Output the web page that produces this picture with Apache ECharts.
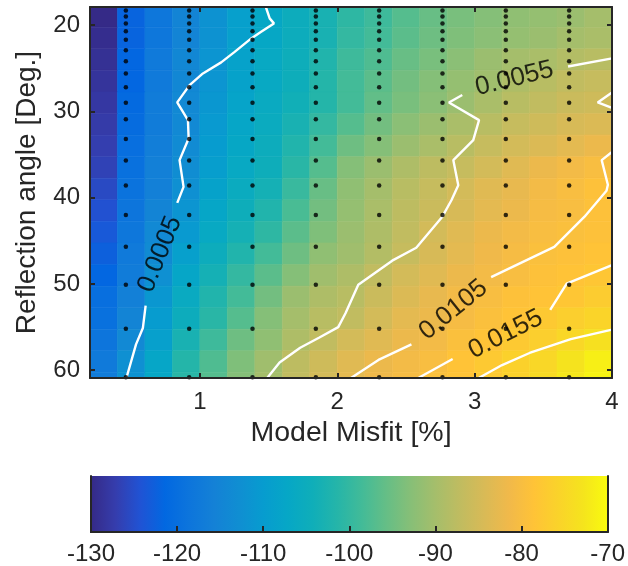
<!DOCTYPE html>
<html><head><meta charset="utf-8">
<script src="https://cdn.jsdelivr.net/npm/echarts@6/dist/echarts.min.js"></script>
<style>html,body{margin:0;padding:0;background:#fff}#c{width:628px;height:566px}</style>
</head><body><div id="c"></div>
<script>
// ---- data ----
const misfit = [0.3,0.5,0.7,0.9,1.1,1.3,1.5,1.7,1.9,2.1,2.3,2.5,2.7,2.9,3.1,3.3,3.5,3.7,3.9];
const angle = [19,21.5,24,26.5,29,31.5,34,36.5,39,41.5,44,46.5,49,51.5,54,56.5,59,61.5];
const power = [
 [-130,-122,-118,-115,-112,-109,-107,-105,-103,-100.5,-99,-97,-95.5,-94,-93,-92,-91.5,-91,-90],
 [-129.5,-122,-118,-115,-112,-109,-107,-105,-103,-100,-98.5,-96.5,-95,-93.5,-92.5,-91.5,-91,-90,-89.5],
 [-129,-121.5,-117.5,-114.5,-111.5,-108.5,-106.5,-104.5,-102,-99,-97.5,-95.5,-94,-92.5,-91,-90,-89.5,-88.5,-88],
 [-128.5,-121.5,-117.5,-114.5,-111.5,-108.5,-106.5,-104.5,-101.5,-98.5,-96.5,-94.5,-93,-91.5,-90.5,-89,-88,-87,-86.5],
 [-128,-121,-117,-114,-111,-108,-106,-104,-101.5,-98.5,-96,-94,-92.5,-91,-89.5,-88,-87,-86,-85.5],
 [-127.5,-120.5,-117,-114,-110.5,-107.5,-105.5,-103,-100,-97,-94.5,-92.5,-91,-89.5,-88,-86.5,-85.5,-84.5,-84],
 [-127,-120,-116.5,-113.5,-110,-107,-105,-102,-98.5,-95,-93,-91,-89.5,-88,-86.5,-85,-84,-83,-82],
 [-126.5,-119.5,-116,-113,-109.5,-106.5,-104.5,-101,-97,-93,-91,-89,-87.5,-86.5,-85,-83.5,-82,-81,-80],
 [-125.5,-119,-116,-112.5,-108.5,-105.5,-103.5,-99.5,-95.5,-92,-90,-88,-86.5,-85,-83.5,-82.5,-81,-80,-79],
 [-124.5,-118.5,-115,-111.5,-107.5,-104.5,-102,-98,-94.5,-91.5,-89.5,-87.5,-86,-84.5,-83,-82,-80.5,-80,-79],
 [-123.5,-118,-114,-110.5,-106.5,-103.5,-100.5,-96.5,-93.5,-91,-89,-87,-85,-83.5,-82,-81,-80,-79.5,-79],
 [-122.5,-117.5,-113.5,-109,-105,-102,-98.5,-95,-92,-90.5,-88.5,-86.5,-84.5,-83,-81.5,-80.5,-79.5,-79,-78.5],
 [-121.5,-117,-112.5,-107.5,-103.5,-100,-96.5,-93,-90.5,-89,-87,-85,-83.5,-82,-81,-80,-79,-78.5,-78],
 [-120,-116,-111,-106,-102,-98.5,-94.5,-91,-89,-88,-86,-84,-82.5,-81,-80,-79,-78.5,-78,-77],
 [-119.5,-115,-110,-105,-101,-97,-93,-90,-88,-87,-85,-83,-82,-80.5,-79.5,-78.5,-77.5,-76.5,-75.5],
 [-118.5,-114,-109,-103,-99,-95,-92,-89,-87,-85,-83.5,-82,-81,-79.5,-78.5,-77.5,-76.5,-75,-73.5],
 [-117.5,-112.5,-107.5,-101.5,-97.5,-93.5,-90.5,-87.5,-85.5,-83.5,-82,-81,-80,-78.5,-77.5,-76,-75,-73,-71.5],
 [-117,-112,-107,-101,-97,-93,-90,-87,-85,-83,-81.5,-80.5,-79.5,-78.5,-77.5,-76,-74.5,-72.5,-71]
];
const dotMisfit = [0.461,0.922,1.383,1.844,2.305,2.766,3.227,3.688];
const dotAngle = [18.3,19.0,19.8,20.7,21.7,22.9,24.2,25.6,27.2,29.0,30.9,33.2,35.7,38.6,42.0,45.7,50.1,55.2,60.8];

const c0005a = [[1.48,17.9],[1.508,19.22],[1.539,19.8],[1.446,20.78],[1.374,21.54],[1.253,23.1],[1.155,24.32],[1.022,25.6],[0.925,26.96],[0.835,28.96],[0.913,31.01],[0.918,33.14],[0.852,35.65],[0.881,38.75],[0.835,40.6]];
const c0005b = [[0.605,52.5],[0.585,55.1],[0.535,57.0],[0.465,60.9]];
const c0055a = [[4.0,23.86],[3.68,24.8]];
const c0055b = [[2.91,28.1],[2.813,28.96],[3.032,31.01],[2.99,33.33],[2.845,35.65],[2.881,38.55],[2.831,40.3],[2.765,42.2],[2.575,45.8],[2.4,47.3],[2.153,50.1],[2.06,53.4],[2.007,55.0],[1.87,56.2],[1.73,57.4],[1.58,59.1],[1.49,60.9]];
const c0055c = [[4.0,27.8],[3.896,28.96],[4.0,29.59]];
const c0105a = [[4.0,34.7],[3.925,35.65],[3.97,38.5],[3.96,39.2],[3.8,42.2],[3.58,45.7],[3.12,49.2]];
const c0105b = [[2.54,57.0],[2.3,58.8],[2.1,60.9]];
const c0155a = [[4.0,47.83],[3.67,49.95],[3.55,53.0]];
const c0155b = [[2.84,58.7],[2.59,60.9]];
const c0205 = [[4.0,55.3],[3.7,56.4],[3.4,58.0],[3.2,59.4],[3.03,60.9]];
const contourSegments = [c0005a, c0005b, c0055a, c0055b, c0055c, c0105a, c0105b, c0155a, c0155b, c0205];

const contourLabelText = ['0.0005','0.0055','0.0105','0.0155'];
const contourLabelAt = [[0.709,46.55],[3.29,26.2],[2.845,53.0],[3.226,55.83]];

const xTicks = [1,2,3,4];
const yTicks = [20,30,40,50,60];
const cbTicks = [-130,-120,-110,-100,-90,-80,-70];
const cbInnerTicks = [-120,-110,-100,-90,-80];
const cbRange = [-130,-70];

// ---- styles ----
const labelRot = [68, 14, 39, 27];
const parula = ['#352a87','#353dad','#2053d4','#0268e1','#0d75dc','#1481d6','#108ed2','#079ccf','#06a7c6','#0faeb9','#25b5a9','#42bb98','#65be86','#87bf77','#a5be6b','#c0bc60','#d9ba56','#f1b94a','#ffc337','#fad32a','#f5e41d','#f9fb0e'];
const FONT = 'Liberation Sans';
const TXT = '#262626';
const AX = {color: TXT, width: 2};

const heatData = [];
angle.forEach((a, j) => misfit.forEach((m, i) => heatData.push([m, a, power[j][i], i, j])));
const dotData = [];
dotMisfit.forEach(m => dotAngle.forEach(a => dotData.push([m, a])));

function edges(arr, k) {
  const lo = k === 0 ? arr[0] - (arr[1] - arr[0]) / 2 : (arr[k - 1] + arr[k]) / 2;
  const hi = k === arr.length - 1 ? arr[k] + (arr[k] - arr[k - 1]) / 2 : (arr[k] + arr[k + 1]) / 2;
  return [lo, hi];
}

const chart = echarts.init(document.getElementById('c'), null, {renderer: 'canvas'});
const series = [];
series.push({
  type: 'custom', xAxisIndex: 0, yAxisIndex: 0, data: heatData, encode: {x: 0, y: 1}, z: 1, silent: true,
  renderItem(params, api) {
    const i = api.value(3), j = api.value(4);
    const ex = edges(misfit, i), ey = edges(angle, j);
    const p0 = api.coord([ex[0], ey[0]]), p1 = api.coord([ex[1], ey[1]]);
    const cs = params.coordSys;
    const shape = echarts.graphic.clipRectByRect({
      x: Math.min(p0[0], p1[0]), y: Math.min(p0[1], p1[1]),
      width: Math.abs(p1[0] - p0[0]), height: Math.abs(p1[1] - p0[1])
    }, {x: cs.x, y: cs.y, width: cs.width, height: cs.height});
    if (!shape) return;
    const col = api.visual('color');
    return {type: 'rect', shape, style: {fill: col, stroke: col, lineWidth: 0.6}};
  }
});
contourSegments.forEach(seg => series.push({
  type: 'line', xAxisIndex: 0, yAxisIndex: 0, data: seg, showSymbol: false, symbol: 'none', silent: true,
  lineStyle: {color: '#ffffff', width: 2.4}, z: 3, animation: false
}));
series.push({
  type: 'scatter', xAxisIndex: 0, yAxisIndex: 0, data: dotData, symbol: 'circle', symbolSize: 4.5,
  itemStyle: {color: '#000'}, z: 4, silent: true
});
series.push({
  type: 'scatter', xAxisIndex: 0, yAxisIndex: 0, symbolSize: 1, z: 5, silent: true,
  itemStyle: {color: 'rgba(0,0,0,0)'},
  data: contourLabelAt.map((p, k) => ({value: p, label: {rotate: labelRot[k], formatter: contourLabelText[k]}})),
  label: {show: true, position: 'inside', color: '#000', fontSize: 26, fontFamily: FONT}
});
series.push({
  type: 'custom', xAxisIndex: 2, yAxisIndex: 2, data: [cbRange], z: 1, silent: true,
  renderItem(params, api) {
    const a = api.coord([api.value(0), 0]), b = api.coord([api.value(1), 1]);
    const stops = parula.map((c, k) => ({offset: k / (parula.length - 1), color: c}));
    return {type: 'rect', shape: {x: a[0], y: b[1], width: b[0] - a[0], height: a[1] - b[1]},
      style: {fill: new echarts.graphic.LinearGradient(0, 0, 1, 0, stops)}};
  }
});

chart.setOption({
  animation: false,
  textStyle: {fontFamily: FONT},
  grid: [
    {left: 90, top: 7, width: 522, height: 371},
    {left: 91, top: 476, width: 522, height: 60}
  ],
  visualMap: {show: false, type: 'continuous', min: cbRange[0], max: cbRange[1], dimension: 2, seriesIndex: 0, inRange: {color: parula}},
  xAxis: [
    {type: 'value', gridIndex: 0, min: 0.2, max: 4, position: 'bottom', z: 10,
     axisLine: {lineStyle: AX}, splitLine: {show: false},
     axisTick: {inside: true, length: 5, lineStyle: AX, customValues: xTicks},
     axisLabel: {customValues: xTicks, color: TXT, fontSize: 24, fontFamily: FONT, margin: 12},
     name: 'Model Misfit [%]', nameLocation: 'middle', nameGap: 40,
     nameTextStyle: {color: TXT, fontSize: 28.5, fontFamily: FONT}},
    {type: 'value', gridIndex: 0, min: 0.2, max: 4, position: 'top', z: 10,
     axisLine: {lineStyle: AX}, splitLine: {show: false},
     axisTick: {inside: true, length: 5, lineStyle: AX, customValues: xTicks},
     axisLabel: {show: false}},
    {type: 'value', gridIndex: 1, min: cbRange[0], max: cbRange[1], position: 'bottom', z: 10,
     axisLine: {lineStyle: AX}, splitLine: {show: false},
     axisTick: {inside: true, length: 6, lineStyle: AX, customValues: cbInnerTicks},
     axisLabel: {customValues: cbTicks, color: TXT, fontSize: 24, fontFamily: FONT, margin: 10}},
    {type: 'value', gridIndex: 1, min: cbRange[0], max: cbRange[1], position: 'top', z: 10,
     axisLine: {lineStyle: AX}, splitLine: {show: false}, axisTick: {show: false}, axisLabel: {show: false}}
  ],
  yAxis: [
    {type: 'value', gridIndex: 0, min: 17.9, max: 60.9, inverse: true, position: 'left', z: 10,
     axisLine: {show: true, lineStyle: AX}, splitLine: {show: false},
     axisTick: {show: true, inside: true, length: 5, lineStyle: AX, customValues: yTicks},
     axisLabel: {customValues: yTicks, color: TXT, fontSize: 24, fontFamily: FONT, margin: 10},
     name: 'Reflection angle [Deg.]', nameLocation: 'middle', nameGap: 49, nameRotate: 90,
     nameTextStyle: {color: TXT, fontSize: 28, fontFamily: FONT}},
    {type: 'value', gridIndex: 0, min: 17.9, max: 60.9, inverse: true, position: 'right', z: 10,
     axisLine: {show: true, lineStyle: AX}, splitLine: {show: false},
     axisTick: {show: true, inside: true, length: 5, lineStyle: AX, customValues: yTicks},
     axisLabel: {show: false}},
    {type: 'value', gridIndex: 1, min: 0, max: 1, position: 'left', z: 10,
     axisLine: {show: true, lineStyle: AX}, splitLine: {show: false}, axisTick: {show: false}, axisLabel: {show: false}},
    {type: 'value', gridIndex: 1, min: 0, max: 1, position: 'right', z: 10,
     axisLine: {show: true, lineStyle: AX}, splitLine: {show: false}, axisTick: {show: false}, axisLabel: {show: false}}
  ],
  series
});
</script></body></html>
